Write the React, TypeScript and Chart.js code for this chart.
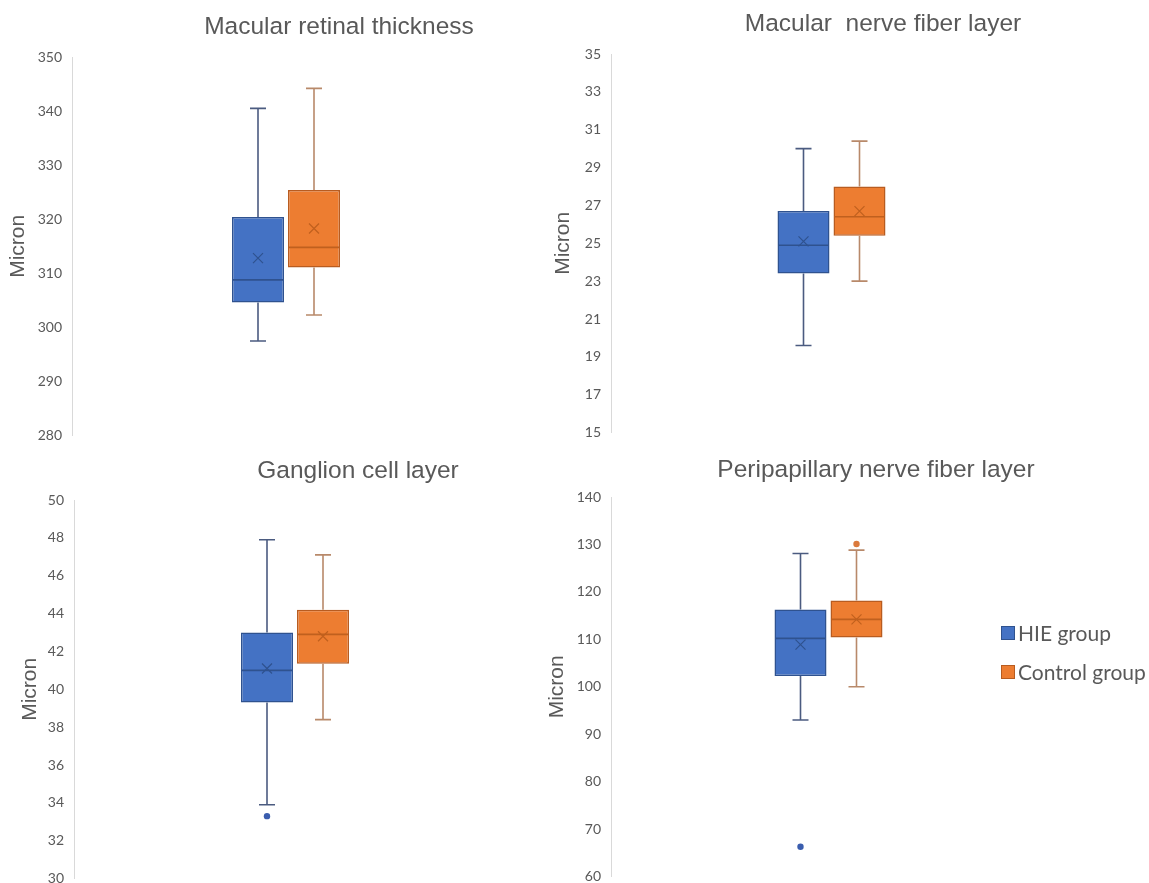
import React, { useEffect, useRef } from 'react';
import { Chart, registerables } from 'chart.js';

Chart.register(...registerables);

// ---------- data ----------
const groups = ['HIE group', 'Control group'];
const panelTitles = [
  'Macular retinal thickness',
  'Macular  nerve fiber layer',
  'Ganglion cell layer',
  'Peripapillary nerve fiber layer',
];
const axisTitle = 'Micron';
const yMin = [280, 15, 30, 60];
const yMax = [350, 35, 50, 140];
const yStep = [10, 2, 2, 10];

// HIE group statistics per panel
const hieMin = [297.5, 19.6, 33.9, 93.0];
const hieQ1 = [304.6, 23.4, 39.3, 102.3];
const hieMedian = [308.8, 24.9, 41.0, 110.2];
const hieQ3 = [320.4, 26.7, 43.0, 116.3];
const hieMax = [340.5, 30.0, 47.9, 128.1];
const hieMean = [312.8, 25.1, 41.1, 108.9];
const hieOutliers = [[], [], [33.3], [66.3]];

// Control group statistics per panel
const ctrlMin = [302.3, 23.0, 38.4, 100.0];
const ctrlQ1 = [311.1, 25.4, 41.35, 110.4];
const ctrlMedian = [314.8, 26.4, 42.9, 114.2];
const ctrlQ3 = [325.4, 28.0, 44.2, 118.2];
const ctrlMax = [344.2, 30.4, 47.1, 128.8];
const ctrlMean = [318.3, 26.7, 42.8, 114.2];
const ctrlOutliers = [[], [], [], [130.1]];

// ---------- styles / layout ----------
const boxFill = ['#4472C4', '#ED7D31'];
const boxEdge = ['#2F528F', '#B85C20'];
const whiskerColor = ['#4B5B80', '#B8896A'];
const medianColor = ['#2F528F', '#C0601E'];
const outlierColor = ['#3A5DAE', '#DB7A3C'];
const textColor = '#595959';

const TITLE_FONT = 24.5;
const MICRON_FONT = 21;
const TICK_FONT = 14;
const BOTTOM_INSET = 20;

const LAYOUT = [
  { left: 0, top: 0, width: 678, plotLeft: 72, plotRight: 500, plotTop: 57, plotBottom: 434, titleY: 27, micronX: 18 },
  { left: 545, top: 0, width: 676, plotLeft: 611, plotRight: 1052, plotTop: 54, plotBottom: 431, titleY: 24, micronX: 563 },
  { left: 12, top: 440, width: 692, plotLeft: 74, plotRight: 516, plotTop: 500, plotBottom: 877, titleY: 471, micronX: 30 },
  { left: 539, top: 440, width: 674, plotLeft: 611, plotRight: 1046, plotTop: 497, plotBottom: 875, titleY: 470, micronX: 557 },
];
const BOX_SPACING = 56;
const BOX_WIDTH = 52;

function Panel({ idx }: { idx: number }) {
  const ref = useRef<HTMLCanvasElement>(null);
  const L = LAYOUT[idx];
  const height = L.plotBottom - L.top + BOTTOM_INSET;

  useEffect(() => {
    if (!ref.current) return;
    const stats = [
      { min: hieMin[idx], q1: hieQ1[idx], med: hieMedian[idx], q3: hieQ3[idx], max: hieMax[idx], mean: hieMean[idx], out: hieOutliers[idx] },
      { min: ctrlMin[idx], q1: ctrlQ1[idx], med: ctrlMedian[idx], q3: ctrlQ3[idx], max: ctrlMax[idx], mean: ctrlMean[idx], out: ctrlOutliers[idx] },
    ];

    const plotW = L.plotRight - L.plotLeft;
    const catPct = (2 * BOX_SPACING) / plotW;
    const barPct = BOX_WIDTH / BOX_SPACING;
    const yAxisWidth = L.plotLeft - L.left;
    const spacerWidth = L.left + L.width - L.plotRight;
    const titleLH = TITLE_FONT * 1.2;
    const titlePadTop = L.titleY - L.top - titleLH / 2;
    const titlePadBottom = L.plotTop - L.top - titlePadTop - titleLH;
    const micronLH = MICRON_FONT * 1.2;
    const micronPad = L.micronX - L.left - micronLH / 2;

    const boxPlugin = {
      id: 'boxWhiskers',
      afterDatasetsDraw(chart: any) {
        const ctx = chart.ctx;
        const ys = chart.scales.y;
        stats.forEach((s, g) => {
          const bar = chart.getDatasetMeta(g).data[0];
          const { x, width } = bar.getProps(['x', 'width'], true);
          const yMinP = ys.getPixelForValue(s.min);
          const yMaxP = ys.getPixelForValue(s.max);
          const yQ1 = ys.getPixelForValue(s.q1);
          const yQ3 = ys.getPixelForValue(s.q3);
          const yMed = ys.getPixelForValue(s.med);
          const yMean = ys.getPixelForValue(s.mean);
          ctx.save();
          // whiskers
          ctx.strokeStyle = whiskerColor[g];
          ctx.lineWidth = 1.6;
          ctx.beginPath();
          ctx.moveTo(x, yQ3);
          ctx.lineTo(x, yMaxP);
          ctx.moveTo(x, yQ1);
          ctx.lineTo(x, yMinP);
          ctx.moveTo(x - 8, yMaxP);
          ctx.lineTo(x + 8, yMaxP);
          ctx.moveTo(x - 8, yMinP);
          ctx.lineTo(x + 8, yMinP);
          ctx.stroke();
          // median
          ctx.strokeStyle = medianColor[g];
          ctx.lineWidth = 1.6;
          ctx.beginPath();
          ctx.moveTo(x - width / 2 + 1, yMed);
          ctx.lineTo(x + width / 2 - 1, yMed);
          ctx.stroke();
          // mean marker
          ctx.lineWidth = 1.2;
          ctx.beginPath();
          ctx.moveTo(x - 5, yMean - 5);
          ctx.lineTo(x + 5, yMean + 5);
          ctx.moveTo(x + 5, yMean - 5);
          ctx.lineTo(x - 5, yMean + 5);
          ctx.stroke();
          // outliers
          ctx.fillStyle = outlierColor[g];
          s.out.forEach((v: number) => {
            ctx.beginPath();
            ctx.arc(x, ys.getPixelForValue(v), 3.2, 0, Math.PI * 2);
            ctx.fill();
          });
          ctx.restore();
        });
      },
    };

    const chart = new Chart(ref.current, {
      type: 'bar',
      data: {
        labels: [''],
        datasets: groups.map((g, gi) => ({
          label: g,
          data: [[stats[gi].q1, stats[gi].q3]] as any,
          backgroundColor: boxFill[gi],
          borderColor: boxEdge[gi],
          borderWidth: 1.5,
          borderSkipped: false,
          categoryPercentage: catPct,
          barPercentage: barPct,
        })),
      },
      options: {
        responsive: false,
        maintainAspectRatio: false,
        animation: false,
        events: [],
        layout: { padding: { left: 0, right: 0, top: 0, bottom: 0 } },
        plugins: {
          legend: { display: false },
          tooltip: { enabled: false },
          title: {
            display: true,
            text: panelTitles[idx],
            color: textColor,
            font: { family: '"Liberation Sans", Arial, sans-serif', size: TITLE_FONT, weight: 'normal', lineHeight: 1.2 },
            padding: { top: titlePadTop, bottom: titlePadBottom },
          },
        },
        scales: {
          x: { display: false },
          y: {
            position: 'left',
            min: yMin[idx],
            max: yMax[idx],
            ticks: {
              stepSize: yStep[idx],
              color: textColor,
              padding: 10,
              font: { family: 'Lato, "Open Sans", sans-serif', size: TICK_FONT },
            },
            grid: { display: false, drawTicks: false },
            border: { display: true, color: '#D9D9D9', width: 1 },
            title: {
              display: true,
              text: axisTitle,
              color: textColor,
              font: { family: '"Liberation Sans", Arial, sans-serif', size: MICRON_FONT, lineHeight: 1.2 },
              padding: { top: micronPad, bottom: 0 },
            },
            afterFit: (s: any) => {
              s.width = yAxisWidth;
            },
          },
          spacer: {
            type: 'linear',
            position: 'right',
            display: true,
            ticks: { display: false },
            grid: { display: false, drawTicks: false },
            border: { display: false },
            afterFit: (s: any) => {
              s.width = spacerWidth;
            },
          },
        },
      } as any,
      plugins: [boxPlugin],
    });
    return () => chart.destroy();
  }, [idx]);

  return (
    <canvas
      ref={ref}
      width={L.width}
      height={height}
      style={{ position: 'absolute', left: L.left, top: L.top, width: L.width, height }}
    />
  );
}

export default function App() {
  return (
    <div
      style={{
        position: 'absolute',
        left: 0,
        top: 0,
        width: 1149,
        height: 883,
        overflow: 'hidden',
        background: '#ffffff',
      }}
    >
      {[0, 1, 2, 3].map((i) => (
        <Panel key={i} idx={i} />
      ))}
      <div
        style={{
          position: 'absolute',
          left: 1001,
          top: 613,
          fontFamily: 'Lato, "Open Sans", sans-serif',
          fontSize: 21,
          color: textColor,
        }}
      >
        {groups.map((g, i) => (
          <div key={g} style={{ display: 'flex', alignItems: 'center', height: 39, whiteSpace: 'nowrap' }}>
            <span
              style={{
                display: 'inline-block',
                width: 14,
                height: 14,
                background: boxFill[i],
                border: `1px solid ${boxEdge[i]}`,
                boxSizing: 'border-box',
                marginRight: 3,
              }}
            />
            {g}
          </div>
        ))}
      </div>
    </div>
  );
}
